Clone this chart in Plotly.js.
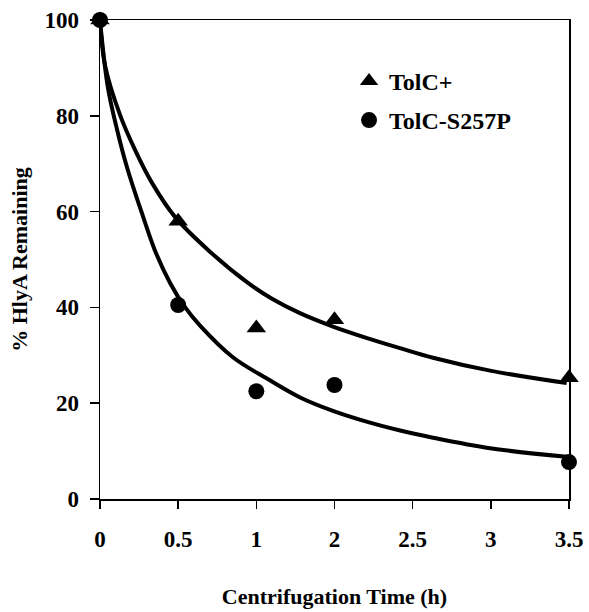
<!DOCTYPE html>
<html>
<head>
<meta charset="utf-8">
<script src="https://cdn.plot.ly/plotly-3.0.1.min.js"></script>
<style>html,body{margin:0;padding:0;background:#fff;}#chart{width:589px;height:612px;}</style>
</head>
<body>
<div id="chart"></div>
<script>
// Axis tick labels (evenly spaced category-style positions)
var tickLabels = ['0', '0.5', '1', '2', '2.5', '3', '3.5'];

// Measured time points (as tick labels)
var timePoints = ['0', '0.5', '1', '2', '3.5'];
var tolcPlus = [100, 58, 35.7, 37.4, 25.3];
var tolcS257P = [100, 40.5, 22.5, 23.8, 7.7];

// Fitted curves (axis position, value)
var fitPlusPos = [0, 0.064, 0.256, 0.448, 0.665, 0.959, 1.382, 1.893, 2.2, 2.558, 2.981, 3.416, 3.838, 4.26, 4.99, 5.97];
var fitPlusVal = [100, 90.6, 80.2, 72.9, 66.0, 58.9, 52.0, 45.1, 41.8, 38.8, 36.0, 33.6, 31.5, 29.5, 26.8, 24.2];
var fitMutPos = [0, 0.1, 0.22, 0.35, 0.55, 0.7, 0.9, 1.09, 1.28, 1.7, 2.14, 2.56, 2.98, 3.42, 3.84, 4.26, 4.99, 5.97];
var fitMutVal = [100, 86, 77, 69, 59, 52, 45, 40, 36.2, 29.6, 25.1, 21.2, 18.4, 16.1, 14.3, 12.8, 10.6, 8.8];

var font = 'Liberation Serif, Times New Roman, serif';
var tickPos = tickLabels.map(function (l, i) { return i; });
var ptPos = timePoints.map(function (t) { return tickLabels.indexOf(t); });

var traces = [
  {x: fitPlusPos, y: fitPlusVal, mode: 'lines', line: {color: '#000', width: 4, shape: 'spline', smoothing: 1}, showlegend: false, hoverinfo: 'skip'},
  {x: fitMutPos, y: fitMutVal, mode: 'lines', line: {color: '#000', width: 4, shape: 'spline', smoothing: 1}, showlegend: false, hoverinfo: 'skip'},
  {x: ptPos, y: tolcPlus, mode: 'markers', name: 'TolC+', legendgroup: 'a', marker: {symbol: 'triangle-up', size: 17, color: '#000'}, cliponaxis: false},
  {x: ptPos, y: tolcS257P, mode: 'markers', name: 'TolC-S257P', legendgroup: 'b', marker: {symbol: 'circle', size: 16, color: '#000'}, cliponaxis: false}
];

var layout = {
  width: 589, height: 612,
  margin: {l: 100, r: 20, t: 20, b: 113},
  paper_bgcolor: '#fff', plot_bgcolor: '#fff',
  font: {family: font, color: '#000', size: 22},
  showlegend: true,
  legend: {x: 0.531, y: 0.919, xanchor: 'left', yanchor: 'top', bgcolor: 'rgba(0,0,0,0)',
           traceorder: 'grouped', tracegroupgap: 5,
           font: {family: font, size: 24, color: '#000', weight: 'bold'}},
  xaxis: {
    range: [0, 6], tickmode: 'array', tickvals: tickPos, ticktext: tickLabels,
    showgrid: false, zeroline: false, showline: true, linecolor: '#000', linewidth: 1.5, mirror: true,
    ticks: 'outside', ticklen: 8, tickwidth: 1.5, tickcolor: '#000',
    ticklabelstandoff: 11,
    tickfont: {family: font, size: 23, color: '#000', weight: 'bold'},
    title: {text: 'Centrifugation Time (h)', font: {family: font, size: 22, color: '#000', weight: 'bold'}, standoff: 37}
  },
  yaxis: {
    range: [0, 100], tickmode: 'array', tickvals: [0, 20, 40, 60, 80, 100],
    showgrid: false, zeroline: false, showline: true, linecolor: '#000', linewidth: 1.5, mirror: true,
    ticks: 'outside', ticklen: 9, tickwidth: 1.5, tickcolor: '#000',
    ticklabelstandoff: 6,
    tickfont: {family: font, size: 23, color: '#000', weight: 'bold'},
    title: {text: '% HlyA Remaining', font: {family: font, size: 22, color: '#000', weight: 'bold'}, standoff: 10}
  }
};

Plotly.newPlot('chart', traces, layout, {displayModeBar: false, staticPlot: true});
</script>
</body>
</html>
